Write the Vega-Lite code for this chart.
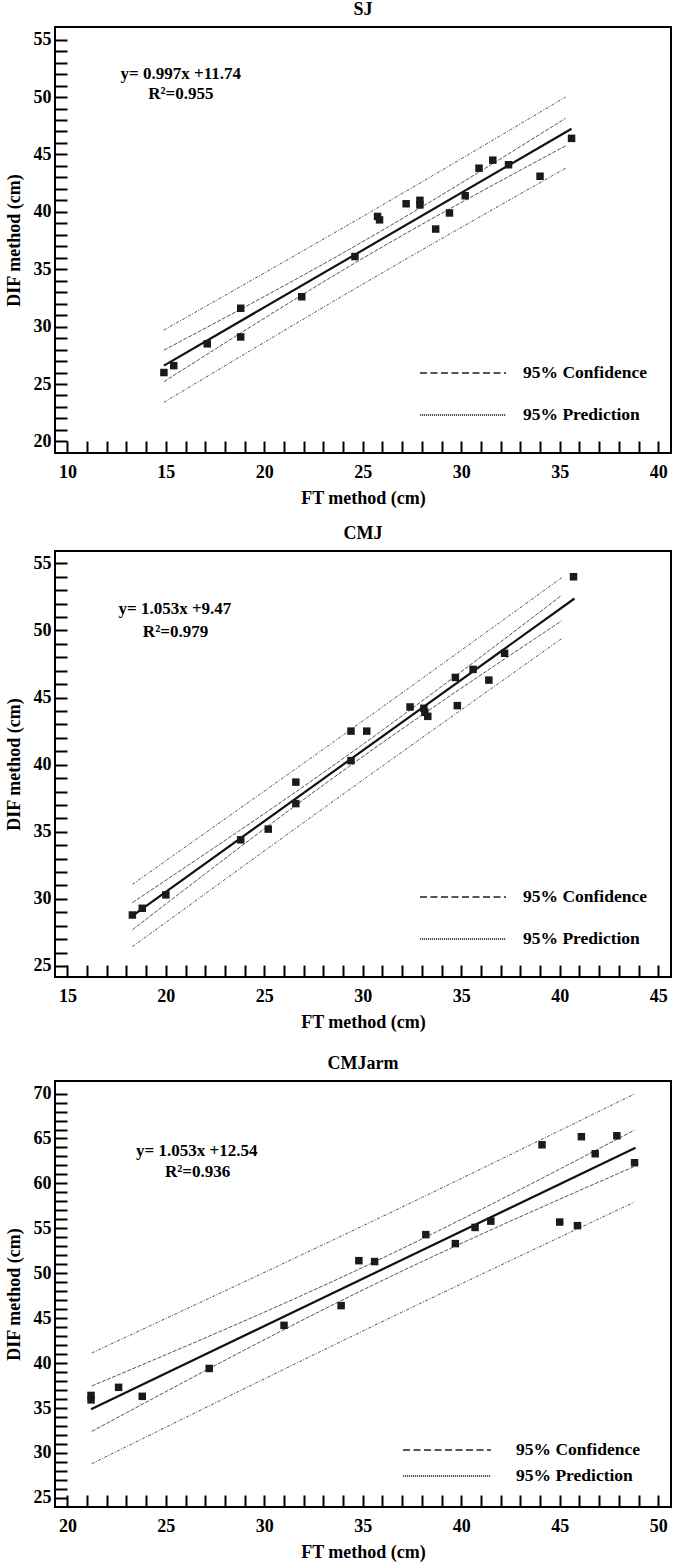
{
  "$schema": "https://vega.github.io/schema/vega-lite/v6.json",
  "padding": {"left": 4, "top": 0, "right": 0, "bottom": 0},
  "background": "white",
  "datasets": {
    "points": [
      {"panel": "SJ", "ft": 14.9, "dif": 26.0}, {"panel": "SJ", "ft": 15.4, "dif": 26.6}, {"panel": "SJ", "ft": 17.1, "dif": 28.5},
      {"panel": "SJ", "ft": 18.8, "dif": 31.6}, {"panel": "SJ", "ft": 18.8, "dif": 29.1}, {"panel": "SJ", "ft": 21.9, "dif": 32.6},
      {"panel": "SJ", "ft": 24.6, "dif": 36.1}, {"panel": "SJ", "ft": 25.75, "dif": 39.6}, {"panel": "SJ", "ft": 25.85, "dif": 39.3},
      {"panel": "SJ", "ft": 27.2, "dif": 40.7}, {"panel": "SJ", "ft": 27.9, "dif": 41.0}, {"panel": "SJ", "ft": 27.9, "dif": 40.6},
      {"panel": "SJ", "ft": 28.7, "dif": 38.5}, {"panel": "SJ", "ft": 29.4, "dif": 39.9}, {"panel": "SJ", "ft": 30.2, "dif": 41.4},
      {"panel": "SJ", "ft": 30.9, "dif": 43.8}, {"panel": "SJ", "ft": 31.6, "dif": 44.5}, {"panel": "SJ", "ft": 32.4, "dif": 44.1},
      {"panel": "SJ", "ft": 34.0, "dif": 43.1}, {"panel": "SJ", "ft": 35.6, "dif": 46.4},
      {"panel": "CMJ", "ft": 18.3, "dif": 28.8}, {"panel": "CMJ", "ft": 18.8, "dif": 29.3}, {"panel": "CMJ", "ft": 20.0, "dif": 30.3},
      {"panel": "CMJ", "ft": 23.8, "dif": 34.4}, {"panel": "CMJ", "ft": 25.2, "dif": 35.2}, {"panel": "CMJ", "ft": 26.6, "dif": 37.1},
      {"panel": "CMJ", "ft": 26.6, "dif": 38.7}, {"panel": "CMJ", "ft": 29.4, "dif": 40.3}, {"panel": "CMJ", "ft": 29.4, "dif": 42.5},
      {"panel": "CMJ", "ft": 30.2, "dif": 42.5}, {"panel": "CMJ", "ft": 32.4, "dif": 44.3}, {"panel": "CMJ", "ft": 33.1, "dif": 44.2},
      {"panel": "CMJ", "ft": 33.15, "dif": 43.9}, {"panel": "CMJ", "ft": 33.3, "dif": 43.6}, {"panel": "CMJ", "ft": 34.7, "dif": 46.5},
      {"panel": "CMJ", "ft": 34.8, "dif": 44.4}, {"panel": "CMJ", "ft": 35.6, "dif": 47.1}, {"panel": "CMJ", "ft": 36.4, "dif": 46.3},
      {"panel": "CMJ", "ft": 37.2, "dif": 48.3}, {"panel": "CMJ", "ft": 40.7, "dif": 54.0},
      {"panel": "CMJarm", "ft": 21.2, "dif": 36.4}, {"panel": "CMJarm", "ft": 21.2, "dif": 35.9}, {"panel": "CMJarm", "ft": 22.6, "dif": 37.3},
      {"panel": "CMJarm", "ft": 23.8, "dif": 36.3}, {"panel": "CMJarm", "ft": 27.2, "dif": 39.4}, {"panel": "CMJarm", "ft": 31.0, "dif": 44.2},
      {"panel": "CMJarm", "ft": 33.9, "dif": 46.4}, {"panel": "CMJarm", "ft": 34.8, "dif": 51.4}, {"panel": "CMJarm", "ft": 35.6, "dif": 51.3},
      {"panel": "CMJarm", "ft": 38.2, "dif": 54.3}, {"panel": "CMJarm", "ft": 39.7, "dif": 53.3}, {"panel": "CMJarm", "ft": 40.7, "dif": 55.1},
      {"panel": "CMJarm", "ft": 41.5, "dif": 55.8}, {"panel": "CMJarm", "ft": 44.1, "dif": 64.3}, {"panel": "CMJarm", "ft": 45.0, "dif": 55.7},
      {"panel": "CMJarm", "ft": 45.9, "dif": 55.3}, {"panel": "CMJarm", "ft": 46.1, "dif": 65.2}, {"panel": "CMJarm", "ft": 46.8, "dif": 63.3},
      {"panel": "CMJarm", "ft": 47.9, "dif": 65.3}, {"panel": "CMJarm", "ft": 48.8, "dif": 62.3}
    ],
    "fit": [
      {"panel": "SJ", "ft": 14.9, "dif": 26.6}, {"panel": "SJ", "ft": 35.6, "dif": 47.23},
      {"panel": "CMJ", "ft": 18.3, "dif": 28.74}, {"panel": "CMJ", "ft": 40.75, "dif": 52.38},
      {"panel": "CMJarm", "ft": 21.2, "dif": 34.86}, {"panel": "CMJarm", "ft": 48.85, "dif": 63.98}
    ],
    "bands": [
      {"panel": "SJ", "band": "95% Confidence", "side": "upper", "ft": 14.9, "dif": 27.95},
      {"panel": "SJ", "band": "95% Confidence", "side": "upper", "ft": 25.3, "dif": 37.7},
      {"panel": "SJ", "band": "95% Confidence", "side": "upper", "ft": 35.3, "dif": 48.15},
      {"panel": "SJ", "band": "95% Confidence", "side": "lower", "ft": 14.9, "dif": 25.2},
      {"panel": "SJ", "band": "95% Confidence", "side": "lower", "ft": 25.3, "dif": 36.25},
      {"panel": "SJ", "band": "95% Confidence", "side": "lower", "ft": 35.3, "dif": 45.75},
      {"panel": "SJ", "band": "95% Prediction", "side": "upper", "ft": 14.9, "dif": 29.7},
      {"panel": "SJ", "band": "95% Prediction", "side": "upper", "ft": 25.3, "dif": 39.9},
      {"panel": "SJ", "band": "95% Prediction", "side": "upper", "ft": 35.3, "dif": 50.0},
      {"panel": "SJ", "band": "95% Prediction", "side": "lower", "ft": 14.9, "dif": 23.4},
      {"panel": "SJ", "band": "95% Prediction", "side": "lower", "ft": 25.3, "dif": 34.0},
      {"panel": "SJ", "band": "95% Prediction", "side": "lower", "ft": 35.3, "dif": 43.8},
      {"panel": "CMJ", "band": "95% Confidence", "side": "upper", "ft": 18.3, "dif": 29.72},
      {"panel": "CMJ", "band": "95% Confidence", "side": "upper", "ft": 29.5, "dif": 40.98},
      {"panel": "CMJ", "band": "95% Confidence", "side": "upper", "ft": 40.1, "dif": 52.62},
      {"panel": "CMJ", "band": "95% Confidence", "side": "lower", "ft": 18.3, "dif": 27.7},
      {"panel": "CMJ", "band": "95% Confidence", "side": "lower", "ft": 29.5, "dif": 40.08},
      {"panel": "CMJ", "band": "95% Confidence", "side": "lower", "ft": 40.1, "dif": 50.72},
      {"panel": "CMJ", "band": "95% Prediction", "side": "upper", "ft": 18.3, "dif": 31.08},
      {"panel": "CMJ", "band": "95% Prediction", "side": "upper", "ft": 29.5, "dif": 42.73},
      {"panel": "CMJ", "band": "95% Prediction", "side": "upper", "ft": 40.1, "dif": 53.93},
      {"panel": "CMJ", "band": "95% Prediction", "side": "lower", "ft": 18.3, "dif": 26.44},
      {"panel": "CMJ", "band": "95% Prediction", "side": "lower", "ft": 29.5, "dif": 38.33},
      {"panel": "CMJ", "band": "95% Prediction", "side": "lower", "ft": 40.1, "dif": 49.39},
      {"panel": "CMJarm", "band": "95% Confidence", "side": "upper", "ft": 21.24, "dif": 37.45},
      {"panel": "CMJarm", "band": "95% Confidence", "side": "upper", "ft": 35.5, "dif": 51.17},
      {"panel": "CMJarm", "band": "95% Confidence", "side": "upper", "ft": 48.8, "dif": 65.94},
      {"panel": "CMJarm", "band": "95% Confidence", "side": "lower", "ft": 21.24, "dif": 32.4},
      {"panel": "CMJarm", "band": "95% Confidence", "side": "lower", "ft": 35.5, "dif": 48.67},
      {"panel": "CMJarm", "band": "95% Confidence", "side": "lower", "ft": 48.8, "dif": 61.9},
      {"panel": "CMJarm", "band": "95% Prediction", "side": "upper", "ft": 21.24, "dif": 41.13},
      {"panel": "CMJarm", "band": "95% Prediction", "side": "upper", "ft": 35.5, "dif": 55.8},
      {"panel": "CMJarm", "band": "95% Prediction", "side": "upper", "ft": 48.8, "dif": 69.96},
      {"panel": "CMJarm", "band": "95% Prediction", "side": "lower", "ft": 21.24, "dif": 28.8},
      {"panel": "CMJarm", "band": "95% Prediction", "side": "lower", "ft": 35.5, "dif": 44.1},
      {"panel": "CMJarm", "band": "95% Prediction", "side": "lower", "ft": 48.8, "dif": 57.93}
    ],
    "notes": [
      {"panel": "SJ", "equation": "y= 0.997x +11.74", "r2": "R²=0.955"},
      {"panel": "CMJ", "equation": "y= 1.053x +9.47", "r2": "R²=0.979"},
      {"panel": "CMJarm", "equation": "y= 1.053x +12.54", "r2": "R²=0.936"}
    ]
  },
  "spacing": 22,
  "resolve": {"scale": {"strokeDash": "independent"}, "legend": {"strokeDash": "independent"}},
  "vconcat": [
    {
      "spacing": 16,
      "resolve": {"scale": {"strokeDash": "independent"}, "legend": {"strokeDash": "independent"}},
      "vconcat": [
        {
          "title": {"text": "SJ"},
          "width": 616,
          "height": 426,
          "resolve": {"scale": {"strokeDash": "independent"}, "legend": {"strokeDash": "independent"}},
          "layer": [
            {
              "data": {"name": "bands"},
              "transform": [{"filter": "datum.panel === 'SJ'"}],
              "mark": {"type": "line", "color": "#555555", "strokeWidth": 1, "interpolate": "monotone"},
              "encoding": {
                "x": {"field": "ft", "type": "quantitative", "scale": {"domain": [9.37, 40.65], "nice": false, "zero": false},
                  "axis": {"title": "FT method (cm)", "values": [10,11,12,13,14,15,16,17,18,19,20,21,22,23,24,25,26,27,28,29,30,31,32,33,34,35,36,37,38,39,40], "encode": {"ticks": {"update": {"y2": {"signal": "datum.value % 5 === 0 ? -12 : -6"}, "strokeWidth": {"signal": "datum.value % 5 === 0 ? 2 : 1.5"}}}}}},
                "y": {"field": "dif", "type": "quantitative", "scale": {"domain": [18.99, 56.1], "nice": false, "zero": false},
                  "axis": {"title": "DIF method (cm)", "values": [20,21,22,23,24,25,26,27,28,29,30,31,32,33,34,35,36,37,38,39,40,41,42,43,44,45,46,47,48,49,50,51,52,53,54,55], "encode": {"ticks": {"update": {"x2": {"signal": "datum.value % 5 === 0 ? 12 : 6"}, "strokeWidth": {"signal": "datum.value % 5 === 0 ? 2 : 1.5"}}}}}},
                "detail": {"field": "side"},
                "strokeDash": {"field": "band", "type": "nominal", "legend": null,
                  "scale": {"domain": ["95% Confidence", "95% Prediction"], "range": [[4, 1.5], [3, 1.5, 1, 1.5]]}}
              }
            },
            {
              "data": {"name": "bands"},
              "transform": [{"filter": "datum.panel === 'legend only'"}],
              "mark": {"type": "line", "color": "#222222", "strokeWidth": 2},
              "encoding": {
                "x": {"field": "ft", "type": "quantitative", "scale": {"domain": [9.37, 40.65], "nice": false, "zero": false},
                  "axis": {"title": "FT method (cm)", "values": [10,11,12,13,14,15,16,17,18,19,20,21,22,23,24,25,26,27,28,29,30,31,32,33,34,35,36,37,38,39,40], "encode": {"ticks": {"update": {"y2": {"signal": "datum.value % 5 === 0 ? -12 : -6"}, "strokeWidth": {"signal": "datum.value % 5 === 0 ? 2 : 1.5"}}}}}},
                "y": {"field": "dif", "type": "quantitative", "scale": {"domain": [18.99, 56.1], "nice": false, "zero": false},
                  "axis": {"title": "DIF method (cm)", "values": [20,21,22,23,24,25,26,27,28,29,30,31,32,33,34,35,36,37,38,39,40,41,42,43,44,45,46,47,48,49,50,51,52,53,54,55], "encode": {"ticks": {"update": {"x2": {"signal": "datum.value % 5 === 0 ? 12 : 6"}, "strokeWidth": {"signal": "datum.value % 5 === 0 ? 2 : 1.5"}}}}}},
                "detail": {"field": "side"},
                "strokeDash": {"field": "band", "type": "nominal",
                  "scale": {"domain": ["95% Confidence", "95% Prediction"], "range": [[7, 3.5], [1.2, 0.8]]},
                  "legend": {"title": null, "orient": "none", "legendX": 354, "legendY": 335, "symbolType": "M0,0H8.6", "symbolSize": 400, "labelOffset": 92, "rowPadding": 22, "padding": 0}}
              }
            },
            {
              "data": {"name": "fit"},
              "transform": [{"filter": "datum.panel === 'SJ'"}],
              "mark": {"type": "line", "color": "#111111", "strokeWidth": 2.2},
              "encoding": {
                "x": {"field": "ft", "type": "quantitative", "scale": {"domain": [9.37, 40.65], "nice": false, "zero": false},
                  "axis": {"title": "FT method (cm)", "values": [10,11,12,13,14,15,16,17,18,19,20,21,22,23,24,25,26,27,28,29,30,31,32,33,34,35,36,37,38,39,40], "encode": {"ticks": {"update": {"y2": {"signal": "datum.value % 5 === 0 ? -12 : -6"}, "strokeWidth": {"signal": "datum.value % 5 === 0 ? 2 : 1.5"}}}}}},
                "y": {"field": "dif", "type": "quantitative", "scale": {"domain": [18.99, 56.1], "nice": false, "zero": false},
                  "axis": {"title": "DIF method (cm)", "values": [20,21,22,23,24,25,26,27,28,29,30,31,32,33,34,35,36,37,38,39,40,41,42,43,44,45,46,47,48,49,50,51,52,53,54,55], "encode": {"ticks": {"update": {"x2": {"signal": "datum.value % 5 === 0 ? 12 : 6"}, "strokeWidth": {"signal": "datum.value % 5 === 0 ? 2 : 1.5"}}}}}}
              }
            },
            {
              "data": {"name": "points"},
              "transform": [{"filter": "datum.panel === 'SJ'"}],
              "mark": {"type": "square", "size": 56, "color": "#1a1a1a", "opacity": 1, "filled": true},
              "encoding": {
                "x": {"field": "ft", "type": "quantitative", "scale": {"domain": [9.37, 40.65], "nice": false, "zero": false},
                  "axis": {"title": "FT method (cm)", "values": [10,11,12,13,14,15,16,17,18,19,20,21,22,23,24,25,26,27,28,29,30,31,32,33,34,35,36,37,38,39,40], "encode": {"ticks": {"update": {"y2": {"signal": "datum.value % 5 === 0 ? -12 : -6"}, "strokeWidth": {"signal": "datum.value % 5 === 0 ? 2 : 1.5"}}}}}},
                "y": {"field": "dif", "type": "quantitative", "scale": {"domain": [18.99, 56.1], "nice": false, "zero": false},
                  "axis": {"title": "DIF method (cm)", "values": [20,21,22,23,24,25,26,27,28,29,30,31,32,33,34,35,36,37,38,39,40,41,42,43,44,45,46,47,48,49,50,51,52,53,54,55], "encode": {"ticks": {"update": {"x2": {"signal": "datum.value % 5 === 0 ? 12 : 6"}, "strokeWidth": {"signal": "datum.value % 5 === 0 ? 2 : 1.5"}}}}}}
              }
            },
            {
              "data": {"name": "notes"},
              "transform": [{"filter": "datum.panel === 'SJ'"}],
              "mark": {"type": "text", "align": "center", "baseline": "middle"},
              "encoding": {
                "x": {"datum": 15.76, "type": "quantitative", "scale": {"domain": [9.37, 40.65], "nice": false, "zero": false},
                  "axis": {"title": "FT method (cm)", "values": [10,11,12,13,14,15,16,17,18,19,20,21,22,23,24,25,26,27,28,29,30,31,32,33,34,35,36,37,38,39,40], "encode": {"ticks": {"update": {"y2": {"signal": "datum.value % 5 === 0 ? -12 : -6"}, "strokeWidth": {"signal": "datum.value % 5 === 0 ? 2 : 1.5"}}}}}},
                "y": {"datum": 51.99, "type": "quantitative", "scale": {"domain": [18.99, 56.1], "nice": false, "zero": false},
                  "axis": {"title": "DIF method (cm)", "values": [20,21,22,23,24,25,26,27,28,29,30,31,32,33,34,35,36,37,38,39,40,41,42,43,44,45,46,47,48,49,50,51,52,53,54,55], "encode": {"ticks": {"update": {"x2": {"signal": "datum.value % 5 === 0 ? 12 : 6"}, "strokeWidth": {"signal": "datum.value % 5 === 0 ? 2 : 1.5"}}}}}},
                "text": {"field": "equation"}}
            },
            {
              "data": {"name": "notes"},
              "transform": [{"filter": "datum.panel === 'SJ'"}],
              "mark": {"type": "text", "align": "center", "baseline": "middle"},
              "encoding": {
                "x": {"datum": 15.76, "type": "quantitative", "scale": {"domain": [9.37, 40.65], "nice": false, "zero": false},
                  "axis": {"title": "FT method (cm)", "values": [10,11,12,13,14,15,16,17,18,19,20,21,22,23,24,25,26,27,28,29,30,31,32,33,34,35,36,37,38,39,40], "encode": {"ticks": {"update": {"y2": {"signal": "datum.value % 5 === 0 ? -12 : -6"}, "strokeWidth": {"signal": "datum.value % 5 === 0 ? 2 : 1.5"}}}}}},
                "y": {"datum": 50.24, "type": "quantitative", "scale": {"domain": [18.99, 56.1], "nice": false, "zero": false},
                  "axis": {"title": "DIF method (cm)", "values": [20,21,22,23,24,25,26,27,28,29,30,31,32,33,34,35,36,37,38,39,40,41,42,43,44,45,46,47,48,49,50,51,52,53,54,55], "encode": {"ticks": {"update": {"x2": {"signal": "datum.value % 5 === 0 ? 12 : 6"}, "strokeWidth": {"signal": "datum.value % 5 === 0 ? 2 : 1.5"}}}}}},
                "text": {"field": "r2"}}
            }
          ]
        },
        {
          "title": {"text": "CMJ"},
          "width": 616,
          "height": 426,
          "resolve": {"scale": {"strokeDash": "independent"}, "legend": {"strokeDash": "independent"}},
          "layer": [
            {
              "data": {"name": "bands"},
              "transform": [{"filter": "datum.panel === 'CMJ'"}],
              "mark": {"type": "line", "color": "#555555", "strokeWidth": 1, "interpolate": "monotone"},
              "encoding": {
                "x": {"field": "ft", "type": "quantitative", "scale": {"domain": [14.37, 45.65], "nice": false, "zero": false},
                  "axis": {"title": "FT method (cm)", "values": [15,16,17,18,19,20,21,22,23,24,25,26,27,28,29,30,31,32,33,34,35,36,37,38,39,40,41,42,43,44,45], "encode": {"ticks": {"update": {"y2": {"signal": "datum.value % 5 === 0 ? -12 : -6"}, "strokeWidth": {"signal": "datum.value % 5 === 0 ? 2 : 1.5"}}}}}},
                "y": {"field": "dif", "type": "quantitative", "scale": {"domain": [24.18, 55.92], "nice": false, "zero": false},
                  "axis": {"title": "DIF method (cm)", "values": [25,26,27,28,29,30,31,32,33,34,35,36,37,38,39,40,41,42,43,44,45,46,47,48,49,50,51,52,53,54,55], "encode": {"ticks": {"update": {"x2": {"signal": "datum.value % 5 === 0 ? 12 : 6"}, "strokeWidth": {"signal": "datum.value % 5 === 0 ? 2 : 1.5"}}}}}},
                "detail": {"field": "side"},
                "strokeDash": {"field": "band", "type": "nominal", "legend": null,
                  "scale": {"domain": ["95% Confidence", "95% Prediction"], "range": [[4, 1.5], [3, 1.5, 1, 1.5]]}}
              }
            },
            {
              "data": {"name": "bands"},
              "transform": [{"filter": "datum.panel === 'legend only'"}],
              "mark": {"type": "line", "color": "#222222", "strokeWidth": 2},
              "encoding": {
                "x": {"field": "ft", "type": "quantitative", "scale": {"domain": [14.37, 45.65], "nice": false, "zero": false},
                  "axis": {"title": "FT method (cm)", "values": [15,16,17,18,19,20,21,22,23,24,25,26,27,28,29,30,31,32,33,34,35,36,37,38,39,40,41,42,43,44,45], "encode": {"ticks": {"update": {"y2": {"signal": "datum.value % 5 === 0 ? -12 : -6"}, "strokeWidth": {"signal": "datum.value % 5 === 0 ? 2 : 1.5"}}}}}},
                "y": {"field": "dif", "type": "quantitative", "scale": {"domain": [24.18, 55.92], "nice": false, "zero": false},
                  "axis": {"title": "DIF method (cm)", "values": [25,26,27,28,29,30,31,32,33,34,35,36,37,38,39,40,41,42,43,44,45,46,47,48,49,50,51,52,53,54,55], "encode": {"ticks": {"update": {"x2": {"signal": "datum.value % 5 === 0 ? 12 : 6"}, "strokeWidth": {"signal": "datum.value % 5 === 0 ? 2 : 1.5"}}}}}},
                "detail": {"field": "side"},
                "strokeDash": {"field": "band", "type": "nominal",
                  "scale": {"domain": ["95% Confidence", "95% Prediction"], "range": [[7, 3.5], [1.2, 0.8]]},
                  "legend": {"title": null, "orient": "none", "legendX": 354, "legendY": 335, "symbolType": "M0,0H8.6", "symbolSize": 400, "labelOffset": 92, "rowPadding": 22, "padding": 0}}
              }
            },
            {
              "data": {"name": "fit"},
              "transform": [{"filter": "datum.panel === 'CMJ'"}],
              "mark": {"type": "line", "color": "#111111", "strokeWidth": 2.2},
              "encoding": {
                "x": {"field": "ft", "type": "quantitative", "scale": {"domain": [14.37, 45.65], "nice": false, "zero": false},
                  "axis": {"title": "FT method (cm)", "values": [15,16,17,18,19,20,21,22,23,24,25,26,27,28,29,30,31,32,33,34,35,36,37,38,39,40,41,42,43,44,45], "encode": {"ticks": {"update": {"y2": {"signal": "datum.value % 5 === 0 ? -12 : -6"}, "strokeWidth": {"signal": "datum.value % 5 === 0 ? 2 : 1.5"}}}}}},
                "y": {"field": "dif", "type": "quantitative", "scale": {"domain": [24.18, 55.92], "nice": false, "zero": false},
                  "axis": {"title": "DIF method (cm)", "values": [25,26,27,28,29,30,31,32,33,34,35,36,37,38,39,40,41,42,43,44,45,46,47,48,49,50,51,52,53,54,55], "encode": {"ticks": {"update": {"x2": {"signal": "datum.value % 5 === 0 ? 12 : 6"}, "strokeWidth": {"signal": "datum.value % 5 === 0 ? 2 : 1.5"}}}}}}
              }
            },
            {
              "data": {"name": "points"},
              "transform": [{"filter": "datum.panel === 'CMJ'"}],
              "mark": {"type": "square", "size": 56, "color": "#1a1a1a", "opacity": 1, "filled": true},
              "encoding": {
                "x": {"field": "ft", "type": "quantitative", "scale": {"domain": [14.37, 45.65], "nice": false, "zero": false},
                  "axis": {"title": "FT method (cm)", "values": [15,16,17,18,19,20,21,22,23,24,25,26,27,28,29,30,31,32,33,34,35,36,37,38,39,40,41,42,43,44,45], "encode": {"ticks": {"update": {"y2": {"signal": "datum.value % 5 === 0 ? -12 : -6"}, "strokeWidth": {"signal": "datum.value % 5 === 0 ? 2 : 1.5"}}}}}},
                "y": {"field": "dif", "type": "quantitative", "scale": {"domain": [24.18, 55.92], "nice": false, "zero": false},
                  "axis": {"title": "DIF method (cm)", "values": [25,26,27,28,29,30,31,32,33,34,35,36,37,38,39,40,41,42,43,44,45,46,47,48,49,50,51,52,53,54,55], "encode": {"ticks": {"update": {"x2": {"signal": "datum.value % 5 === 0 ? 12 : 6"}, "strokeWidth": {"signal": "datum.value % 5 === 0 ? 2 : 1.5"}}}}}}
              }
            },
            {
              "data": {"name": "notes"},
              "transform": [{"filter": "datum.panel === 'CMJ'"}],
              "mark": {"type": "text", "align": "center", "baseline": "middle"},
              "encoding": {
                "x": {"datum": 20.46, "type": "quantitative", "scale": {"domain": [14.37, 45.65], "nice": false, "zero": false},
                  "axis": {"title": "FT method (cm)", "values": [15,16,17,18,19,20,21,22,23,24,25,26,27,28,29,30,31,32,33,34,35,36,37,38,39,40,41,42,43,44,45], "encode": {"ticks": {"update": {"y2": {"signal": "datum.value % 5 === 0 ? -12 : -6"}, "strokeWidth": {"signal": "datum.value % 5 === 0 ? 2 : 1.5"}}}}}},
                "y": {"datum": 51.57, "type": "quantitative", "scale": {"domain": [24.18, 55.92], "nice": false, "zero": false},
                  "axis": {"title": "DIF method (cm)", "values": [25,26,27,28,29,30,31,32,33,34,35,36,37,38,39,40,41,42,43,44,45,46,47,48,49,50,51,52,53,54,55], "encode": {"ticks": {"update": {"x2": {"signal": "datum.value % 5 === 0 ? 12 : 6"}, "strokeWidth": {"signal": "datum.value % 5 === 0 ? 2 : 1.5"}}}}}},
                "text": {"field": "equation"}}
            },
            {
              "data": {"name": "notes"},
              "transform": [{"filter": "datum.panel === 'CMJ'"}],
              "mark": {"type": "text", "align": "center", "baseline": "middle"},
              "encoding": {
                "x": {"datum": 20.49, "type": "quantitative", "scale": {"domain": [14.37, 45.65], "nice": false, "zero": false},
                  "axis": {"title": "FT method (cm)", "values": [15,16,17,18,19,20,21,22,23,24,25,26,27,28,29,30,31,32,33,34,35,36,37,38,39,40,41,42,43,44,45], "encode": {"ticks": {"update": {"y2": {"signal": "datum.value % 5 === 0 ? -12 : -6"}, "strokeWidth": {"signal": "datum.value % 5 === 0 ? 2 : 1.5"}}}}}},
                "y": {"datum": 49.91, "type": "quantitative", "scale": {"domain": [24.18, 55.92], "nice": false, "zero": false},
                  "axis": {"title": "DIF method (cm)", "values": [25,26,27,28,29,30,31,32,33,34,35,36,37,38,39,40,41,42,43,44,45,46,47,48,49,50,51,52,53,54,55], "encode": {"ticks": {"update": {"x2": {"signal": "datum.value % 5 === 0 ? 12 : 6"}, "strokeWidth": {"signal": "datum.value % 5 === 0 ? 2 : 1.5"}}}}}},
                "text": {"field": "r2"}}
            }
          ]
        }
      ]
    },
    {
      "title": {"text": "CMJarm"},
      "width": 616,
      "height": 426,
      "resolve": {"scale": {"strokeDash": "independent"}, "legend": {"strokeDash": "independent"}},
      "layer": [
        {
          "data": {"name": "bands"},
          "transform": [{"filter": "datum.panel === 'CMJarm'"}],
          "mark": {"type": "line", "color": "#555555", "strokeWidth": 1, "interpolate": "monotone"},
          "encoding": {
            "x": {"field": "ft", "type": "quantitative", "scale": {"domain": [19.37, 50.65], "nice": false, "zero": false},
              "axis": {"title": "FT method (cm)", "values": [20,21,22,23,24,25,26,27,28,29,30,31,32,33,34,35,36,37,38,39,40,41,42,43,44,45,46,47,48,49,50], "encode": {"ticks": {"update": {"y2": {"signal": "datum.value % 5 === 0 ? -12 : -6"}, "strokeWidth": {"signal": "datum.value % 5 === 0 ? 2 : 1.5"}}}}}},
            "y": {"field": "dif", "type": "quantitative", "scale": {"domain": [23.98, 71.4], "nice": false, "zero": false},
              "axis": {"title": "DIF method (cm)", "values": [25,26,27,28,29,30,31,32,33,34,35,36,37,38,39,40,41,42,43,44,45,46,47,48,49,50,51,52,53,54,55,56,57,58,59,60,61,62,63,64,65,66,67,68,69,70], "encode": {"ticks": {"update": {"x2": {"signal": "datum.value % 5 === 0 ? 12 : 6"}, "strokeWidth": {"signal": "datum.value % 5 === 0 ? 2 : 1.5"}}}}}},
            "detail": {"field": "side"},
            "strokeDash": {"field": "band", "type": "nominal", "legend": null,
              "scale": {"domain": ["95% Confidence", "95% Prediction"], "range": [[4, 1.5], [3, 1.5, 1, 1.5]]}}
          }
        },
        {
          "data": {"name": "bands"},
          "transform": [{"filter": "datum.panel === 'legend only'"}],
          "mark": {"type": "line", "color": "#222222", "strokeWidth": 2},
          "encoding": {
            "x": {"field": "ft", "type": "quantitative", "scale": {"domain": [19.37, 50.65], "nice": false, "zero": false},
              "axis": {"title": "FT method (cm)", "values": [20,21,22,23,24,25,26,27,28,29,30,31,32,33,34,35,36,37,38,39,40,41,42,43,44,45,46,47,48,49,50], "encode": {"ticks": {"update": {"y2": {"signal": "datum.value % 5 === 0 ? -12 : -6"}, "strokeWidth": {"signal": "datum.value % 5 === 0 ? 2 : 1.5"}}}}}},
            "y": {"field": "dif", "type": "quantitative", "scale": {"domain": [23.98, 71.4], "nice": false, "zero": false},
              "axis": {"title": "DIF method (cm)", "values": [25,26,27,28,29,30,31,32,33,34,35,36,37,38,39,40,41,42,43,44,45,46,47,48,49,50,51,52,53,54,55,56,57,58,59,60,61,62,63,64,65,66,67,68,69,70], "encode": {"ticks": {"update": {"x2": {"signal": "datum.value % 5 === 0 ? 12 : 6"}, "strokeWidth": {"signal": "datum.value % 5 === 0 ? 2 : 1.5"}}}}}},
            "detail": {"field": "side"},
            "strokeDash": {"field": "band", "type": "nominal",
              "scale": {"domain": ["95% Confidence", "95% Prediction"], "range": [[7, 3.5], [1.2, 0.8]]},
              "legend": {"title": null, "orient": "none", "legendX": 337, "legendY": 358, "symbolType": "M0,0H8.8", "symbolSize": 400, "labelOffset": 102, "rowPadding": 6, "padding": 0}}
          }
        },
        {
          "data": {"name": "fit"},
          "transform": [{"filter": "datum.panel === 'CMJarm'"}],
          "mark": {"type": "line", "color": "#111111", "strokeWidth": 2.2},
          "encoding": {
            "x": {"field": "ft", "type": "quantitative", "scale": {"domain": [19.37, 50.65], "nice": false, "zero": false},
              "axis": {"title": "FT method (cm)", "values": [20,21,22,23,24,25,26,27,28,29,30,31,32,33,34,35,36,37,38,39,40,41,42,43,44,45,46,47,48,49,50], "encode": {"ticks": {"update": {"y2": {"signal": "datum.value % 5 === 0 ? -12 : -6"}, "strokeWidth": {"signal": "datum.value % 5 === 0 ? 2 : 1.5"}}}}}},
            "y": {"field": "dif", "type": "quantitative", "scale": {"domain": [23.98, 71.4], "nice": false, "zero": false},
              "axis": {"title": "DIF method (cm)", "values": [25,26,27,28,29,30,31,32,33,34,35,36,37,38,39,40,41,42,43,44,45,46,47,48,49,50,51,52,53,54,55,56,57,58,59,60,61,62,63,64,65,66,67,68,69,70], "encode": {"ticks": {"update": {"x2": {"signal": "datum.value % 5 === 0 ? 12 : 6"}, "strokeWidth": {"signal": "datum.value % 5 === 0 ? 2 : 1.5"}}}}}}
          }
        },
        {
          "data": {"name": "points"},
          "transform": [{"filter": "datum.panel === 'CMJarm'"}],
          "mark": {"type": "square", "size": 56, "color": "#1a1a1a", "opacity": 1, "filled": true},
          "encoding": {
            "x": {"field": "ft", "type": "quantitative", "scale": {"domain": [19.37, 50.65], "nice": false, "zero": false},
              "axis": {"title": "FT method (cm)", "values": [20,21,22,23,24,25,26,27,28,29,30,31,32,33,34,35,36,37,38,39,40,41,42,43,44,45,46,47,48,49,50], "encode": {"ticks": {"update": {"y2": {"signal": "datum.value % 5 === 0 ? -12 : -6"}, "strokeWidth": {"signal": "datum.value % 5 === 0 ? 2 : 1.5"}}}}}},
            "y": {"field": "dif", "type": "quantitative", "scale": {"domain": [23.98, 71.4], "nice": false, "zero": false},
              "axis": {"title": "DIF method (cm)", "values": [25,26,27,28,29,30,31,32,33,34,35,36,37,38,39,40,41,42,43,44,45,46,47,48,49,50,51,52,53,54,55,56,57,58,59,60,61,62,63,64,65,66,67,68,69,70], "encode": {"ticks": {"update": {"x2": {"signal": "datum.value % 5 === 0 ? 12 : 6"}, "strokeWidth": {"signal": "datum.value % 5 === 0 ? 2 : 1.5"}}}}}}
          }
        },
        {
          "data": {"name": "notes"},
          "transform": [{"filter": "datum.panel === 'CMJarm'"}],
          "mark": {"type": "text", "align": "center", "baseline": "middle"},
          "encoding": {
            "x": {"datum": 26.57, "type": "quantitative", "scale": {"domain": [19.37, 50.65], "nice": false, "zero": false},
              "axis": {"title": "FT method (cm)", "values": [20,21,22,23,24,25,26,27,28,29,30,31,32,33,34,35,36,37,38,39,40,41,42,43,44,45,46,47,48,49,50], "encode": {"ticks": {"update": {"y2": {"signal": "datum.value % 5 === 0 ? -12 : -6"}, "strokeWidth": {"signal": "datum.value % 5 === 0 ? 2 : 1.5"}}}}}},
            "y": {"datum": 63.65, "type": "quantitative", "scale": {"domain": [23.98, 71.4], "nice": false, "zero": false},
              "axis": {"title": "DIF method (cm)", "values": [25,26,27,28,29,30,31,32,33,34,35,36,37,38,39,40,41,42,43,44,45,46,47,48,49,50,51,52,53,54,55,56,57,58,59,60,61,62,63,64,65,66,67,68,69,70], "encode": {"ticks": {"update": {"x2": {"signal": "datum.value % 5 === 0 ? 12 : 6"}, "strokeWidth": {"signal": "datum.value % 5 === 0 ? 2 : 1.5"}}}}}},
            "text": {"field": "equation"}}
        },
        {
          "data": {"name": "notes"},
          "transform": [{"filter": "datum.panel === 'CMJarm'"}],
          "mark": {"type": "text", "align": "center", "baseline": "middle"},
          "encoding": {
            "x": {"datum": 26.61, "type": "quantitative", "scale": {"domain": [19.37, 50.65], "nice": false, "zero": false},
              "axis": {"title": "FT method (cm)", "values": [20,21,22,23,24,25,26,27,28,29,30,31,32,33,34,35,36,37,38,39,40,41,42,43,44,45,46,47,48,49,50], "encode": {"ticks": {"update": {"y2": {"signal": "datum.value % 5 === 0 ? -12 : -6"}, "strokeWidth": {"signal": "datum.value % 5 === 0 ? 2 : 1.5"}}}}}},
            "y": {"datum": 61.3, "type": "quantitative", "scale": {"domain": [23.98, 71.4], "nice": false, "zero": false},
              "axis": {"title": "DIF method (cm)", "values": [25,26,27,28,29,30,31,32,33,34,35,36,37,38,39,40,41,42,43,44,45,46,47,48,49,50,51,52,53,54,55,56,57,58,59,60,61,62,63,64,65,66,67,68,69,70], "encode": {"ticks": {"update": {"x2": {"signal": "datum.value % 5 === 0 ? 12 : 6"}, "strokeWidth": {"signal": "datum.value % 5 === 0 ? 2 : 1.5"}}}}}},
            "text": {"field": "r2"}}
        }
      ]
    }
  ],
  "config": {
    "font": "Liberation Serif",
    "view": {"stroke": "black", "strokeWidth": 2},
    "title": {"font": "Liberation Serif", "fontSize": 18, "fontWeight": "bold", "color": "black", "anchor": "middle", "offset": 8, "baseline": "alphabetic"},
    "text": {"font": "Liberation Serif", "fontSize": 17, "fontWeight": "bold", "color": "black"},
    "axis": {"domain": false, "grid": false, "tickSize": -12, "tickColor": "black", "tickWidth": 2,
      "labelFont": "Liberation Serif", "labelFontSize": 18, "labelFontWeight": "bold", "labelColor": "black", "labelFlush": false, "labelOverlap": false,
      "titleFont": "Liberation Serif", "titleFontSize": 18, "titleFontWeight": "bold", "titleColor": "black"},
    "axisX": {"labelPadding": 22, "titlePadding": 8, "labelExpr": "datum.value % 5 === 0 ? datum.label : ''"},
    "axisY": {"labelPadding": 16, "titlePadding": 10, "labelExpr": "datum.value % 5 === 0 ? datum.label : ''"},
    "legend": {"labelFont": "Liberation Serif", "labelFontSize": 17.5, "labelFontWeight": "bold", "labelColor": "black", "labelLimit": 300}
  }
}
